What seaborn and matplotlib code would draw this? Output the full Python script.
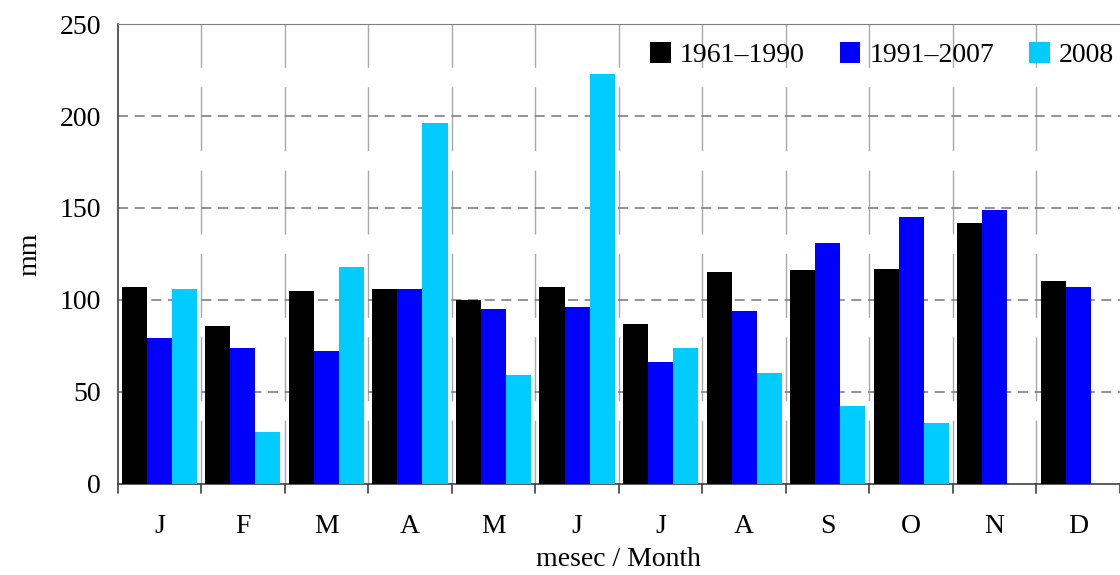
import matplotlib
matplotlib.use("Agg")
import matplotlib.pyplot as plt
import numpy as np
import pandas as pd
import seaborn as sns

# monthly precipitation (mm)
months = ["J", "F", "M", "A", "M", "J", "J", "A", "S", "O", "N", "D"]
series = ["1961\u20131990", "1991\u20132007", "2008"]
p_1961_1990 = [107, 86, 105, 106, 100, 107, 87, 115, 116, 117, 142, 110]
p_1991_2007 = [79, 74, 72, 106, 95, 96, 66, 94, 131, 145, 149, 107]
p_2008 = [106, 28, 118, 196, 59, 223, 74, 60, 42, 33, np.nan, np.nan]
colors = ["#000000", "#0000ff", "#00ccff"]

rows = []
for s, vals in zip(series, [p_1961_1990, p_1991_2007, p_2008]):
    for i, v in enumerate(vals):
        rows.append({"month": i, "series": s, "mm": v})
df = pd.DataFrame(rows)

sns.set_style("white", {"text.color": "black", "axes.labelcolor": "black",
                        "xtick.color": "black", "ytick.color": "black"})
plt.rcParams["font.family"] = ["Liberation Serif", "DejaVu Serif"]

fig = plt.figure(figsize=(11.2, 5.75), dpi=100)
ax = fig.add_axes([0.105, 0.159, 0.895, 0.799])

sns.barplot(data=df, x="month", y="mm", hue="series", palette=colors,
            width=0.9, saturation=1, gap=0, ax=ax, zorder=3, linewidth=0,
            errorbar=None)

ax.set_ylim(0, 250)
ax.set_xlim(-0.5, 11.5)
ax.set_yticks(range(0, 251, 50))
ax.set_xticks(range(12))
ax.set_xticklabels(months)
ax.tick_params(axis="x", labelsize=20, length=0, pad=22, labelcolor="black")
ax.tick_params(axis="y", labelsize=20, length=14, width=1.2, color="#404040",
               pad=5, direction="inout", labelcolor="black")

# category boundary ticks and vertical grid
for b in np.arange(-0.5, 12, 1):
    ax.plot([b, b], [0, -0.02], transform=ax.get_xaxis_transform(), color="#404040",
            lw=1.2, clip_on=False, zorder=4)
    if 0 < b < 11.5:
        ax.axvline(b, color="#a8a8a8", lw=1, ls=(0, (46, 14)), zorder=1)
for yv in range(50, 251, 50):
    ax.axhline(yv, color="#808080", lw=1.2, ls=(0, (6, 4)), zorder=2)

ax.spines["right"].set_visible(False)
ax.spines["top"].set_color("#808080")
ax.spines["left"].set_color("#404040")
ax.spines["bottom"].set_color("#404040")
ax.spines["left"].set_linewidth(1.2)
ax.spines["bottom"].set_linewidth(1.2)

ax.set_xlabel("mesec / Month", fontsize=20, labelpad=6, color="black")
ax.set_ylabel("mm", fontsize=20, labelpad=12, color="black")

h, l = ax.get_legend_handles_labels()
leg = ax.legend(h, l, loc="upper right", ncol=3, frameon=False, fontsize=20,
                handlelength=0.75, handleheight=0.75, handletextpad=0.32,
                columnspacing=1.26, bbox_to_anchor=(1.012, 1.0), borderaxespad=0.25)
for t in leg.get_texts():
    t.set_color("black")

fig.savefig("out.png", dpi=100)
